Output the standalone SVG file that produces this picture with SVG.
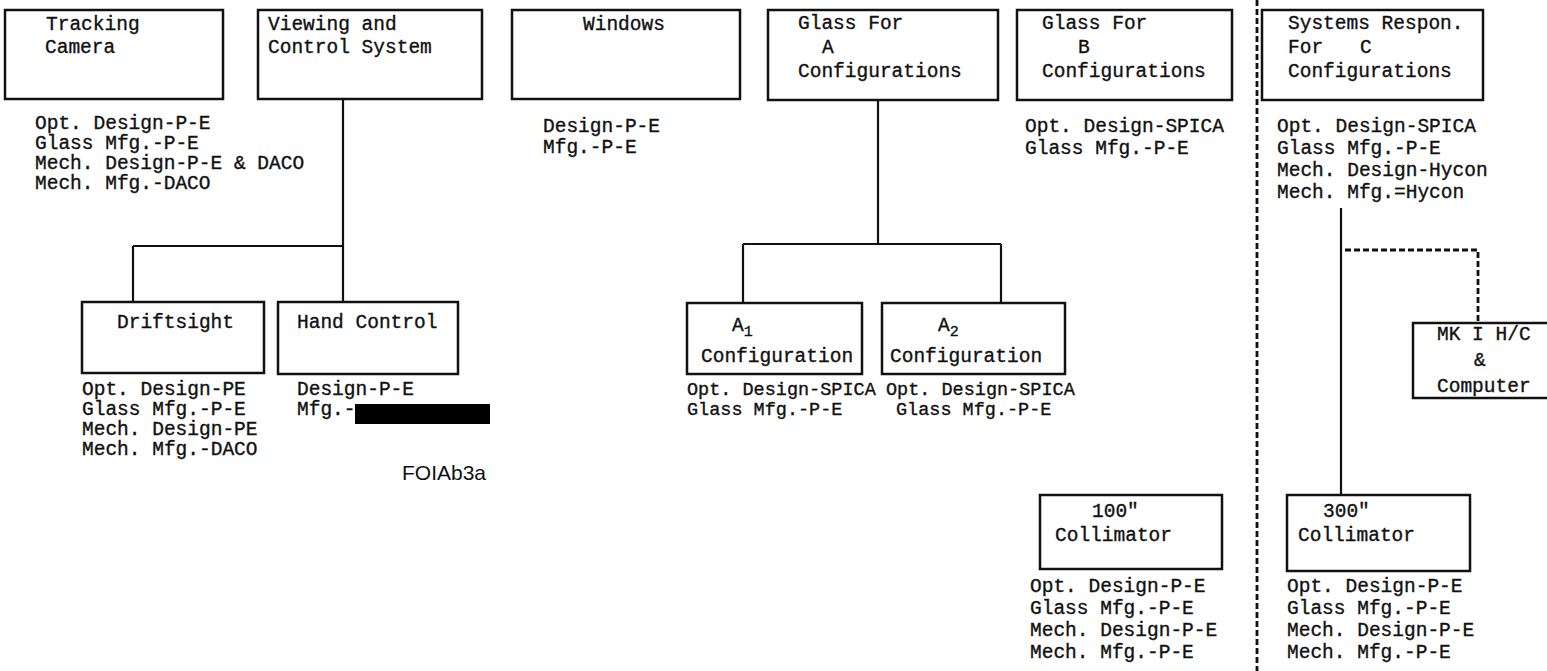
<svg xmlns="http://www.w3.org/2000/svg" width="1547" height="671" viewBox="0 0 1547 671">
<style>
.box{fill:none;stroke:#111;stroke-width:2.5}
.t{font-family:"Courier New","Liberation Mono",monospace;font-size:19.5px;fill:#111;stroke:#111;stroke-width:0.35}
.s{font-size:18.5px}
.ln{fill:none;stroke:#111;stroke-width:2.2}
.dash{fill:none;stroke:#111;stroke-width:2.8;stroke-dasharray:6 3}
</style>
<rect width="1547" height="671" fill="#fff"/>
<g id="connectors">
<path class="ln" d="M343 99 V302 M133 246 H343 M133 246 V302"/>
<path class="ln" d="M878 100 V244 M743 244 H1001 M743 244 V303 M1001 244 V303"/>
<path class="ln" d="M1341 208 V495"/>
<path class="dash" d="M1345 250 H1478 V322"/>
<path class="dash" d="M1257 0 V671"/>
</g>
<g id="tracking-camera">
<rect class="box" x="5" y="10" width="218" height="89"/>
<text class="t" x="46" y="30">Tracking</text>
<text class="t" x="45" y="53">Camera</text>
<text class="t" x="35" y="129">Opt. Design-P-E</text>
<text class="t" x="35" y="149">Glass Mfg.-P-E</text>
<text class="t" x="35" y="169">Mech. Design-P-E &amp; DACO</text>
<text class="t" x="35" y="189">Mech. Mfg.-DACO</text>
</g>
<g id="viewing-control">
<rect class="box" x="258" y="10" width="224" height="89"/>
<text class="t" x="268" y="30">Viewing and</text>
<text class="t" x="268" y="53">Control System</text>
</g>
<g id="windows">
<rect class="box" x="512" y="10" width="228" height="89"/>
<text class="t" x="583" y="30">Windows</text>
<text class="t" x="543" y="132">Design-P-E</text>
<text class="t" x="543" y="153">Mfg.-P-E</text>
</g>
<g id="glass-a">
<rect class="box" x="768" y="10" width="230" height="90"/>
<text class="t" x="798" y="29">Glass For</text>
<text class="t" x="822" y="53">A</text>
<text class="t" x="798" y="77">Configurations</text>
</g>
<g id="glass-b">
<rect class="box" x="1017" y="10" width="215" height="90"/>
<text class="t" x="1042" y="29">Glass For</text>
<text class="t" x="1078" y="53">B</text>
<text class="t" x="1042" y="77">Configurations</text>
<text class="t" x="1025" y="132">Opt. Design-SPICA</text>
<text class="t" x="1025" y="154">Glass Mfg.-P-E</text>
</g>
<g id="systems-c">
<rect class="box" x="1262" y="10" width="221" height="90"/>
<text class="t" x="1288" y="29">Systems Respon.</text>
<text class="t" x="1288" y="53">For<tspan x="1360">C</tspan></text>
<text class="t" x="1288" y="77">Configurations</text>
<text class="t" x="1277" y="132">Opt. Design-SPICA</text>
<text class="t" x="1277" y="154">Glass Mfg.-P-E</text>
<text class="t" x="1277" y="176">Mech. Design-Hycon</text>
<text class="t" x="1277" y="198">Mech. Mfg.=Hycon</text>
</g>
<g id="driftsight">
<rect class="box" x="82" y="302" width="182" height="71"/>
<text class="t" x="117" y="328">Driftsight</text>
<text class="t" x="82" y="395">Opt. Design-PE</text>
<text class="t" x="82" y="415">Glass Mfg.-P-E</text>
<text class="t" x="82" y="435">Mech. Design-PE</text>
<text class="t" x="82" y="455">Mech. Mfg.-DACO</text>
</g>
<g id="hand-control">
<rect class="box" x="278" y="302" width="180" height="72"/>
<text class="t" x="297" y="328">Hand Control</text>
<text class="t" x="297" y="395">Design-P-E</text>
<text class="t" x="297" y="415">Mfg.-</text>
<rect x="355" y="404" width="135" height="20" fill="#000"/>
</g>
<g id="a1-config">
<rect class="box" x="687" y="303" width="175" height="71"/>
<text class="t" x="732" y="331">A<tspan font-size="15" dy="5">1</tspan></text>
<text class="t" x="701" y="362">Configuration</text>
<text class="t s" x="687" y="395">Opt. Design-SPICA</text>
<text class="t s" x="687" y="415">Glass Mfg.-P-E</text>
</g>
<g id="a2-config">
<rect class="box" x="882" y="303" width="183" height="71"/>
<text class="t" x="938" y="331">A<tspan font-size="15" dy="5">2</tspan></text>
<text class="t" x="890" y="362">Configuration</text>
<text class="t s" x="886" y="395">Opt. Design-SPICA</text>
<text class="t s" x="896" y="415">Glass Mfg.-P-E</text>
</g>
<g id="mk-computer">
<path class="box" d="M1547 323 H1413 V398 H1547"/>
<text class="t" x="1437" y="340">MK I H/C</text>
<text class="t" x="1474" y="366">&amp;</text>
<text class="t" x="1437" y="392">Computer</text>
</g>
<g id="collimator-100">
<rect class="box" x="1040" y="495" width="182" height="74"/>
<text class="t" x="1092" y="517">100"</text>
<text class="t" x="1055" y="541">Collimator</text>
<text class="t" x="1030" y="592">Opt. Design-P-E</text>
<text class="t" x="1030" y="614">Glass Mfg.-P-E</text>
<text class="t" x="1030" y="636">Mech. Design-P-E</text>
<text class="t" x="1030" y="658">Mech. Mfg.-P-E</text>
</g>
<g id="collimator-300">
<rect class="box" x="1287" y="495" width="183" height="76"/>
<text class="t" x="1323" y="517">300"</text>
<text class="t" x="1298" y="541">Collimator</text>
<text class="t" x="1287" y="592">Opt. Design-P-E</text>
<text class="t" x="1287" y="614">Glass Mfg.-P-E</text>
<text class="t" x="1287" y="636">Mech. Design-P-E</text>
<text class="t" x="1287" y="658">Mech. Mfg.-P-E</text>
</g>
<g id="doc-id">
<text x="402" y="480" font-family="Liberation Sans, Arial, sans-serif" font-size="21" fill="#111">FOIAb3a</text>
</g>
</svg>
